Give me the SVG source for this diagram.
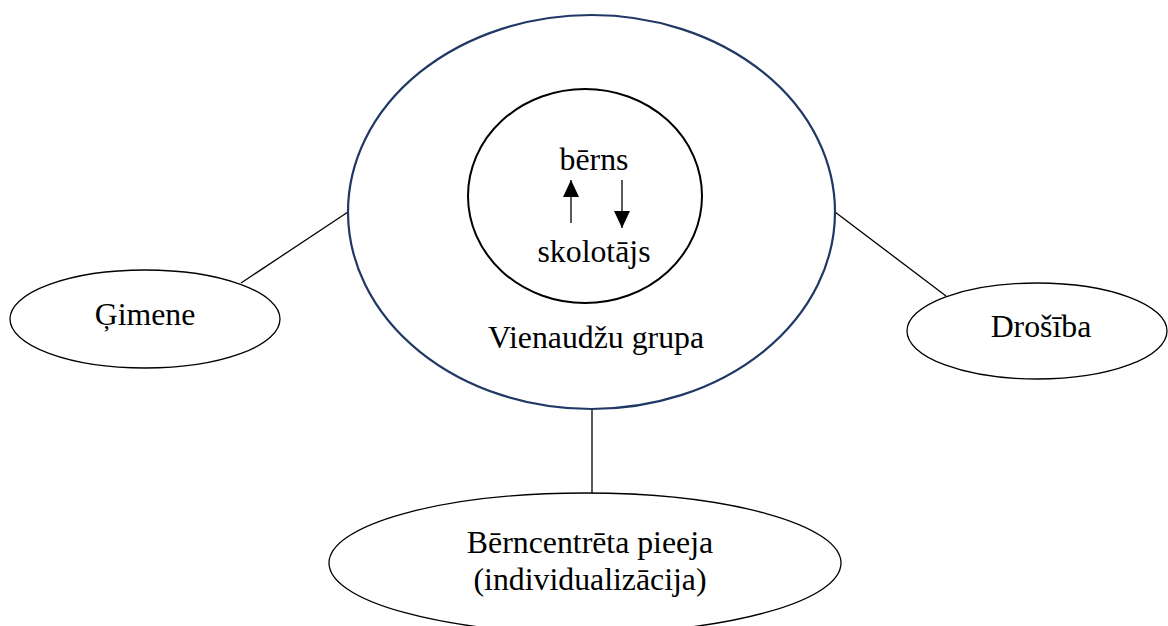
<svg xmlns="http://www.w3.org/2000/svg" width="1168" height="626" viewBox="0 0 1168 626">
<style>
text{font-family:'Liberation Serif','Times New Roman','DejaVu Serif',serif;font-size:31.8px;fill:#000;text-anchor:middle}
.n{fill:#fff;stroke:#000;stroke-width:1.3}
.c{stroke:#000;stroke-width:1.3;fill:none}
</style>
<defs>
<marker id="ah" viewBox="0 0 17 16" refX="17" refY="8" markerWidth="17" markerHeight="16" markerUnits="userSpaceOnUse" orient="auto">
<path d="M0,0 L17,8 L0,16 Z" fill="#000"/>
</marker>
</defs>
<rect width="1168" height="626" fill="#fff"/>
<g id="connectors">
<line class="c" x1="241" y1="283" x2="348" y2="212"/>
<line class="c" x1="835" y1="212" x2="946" y2="296"/>
<line class="c" x1="592" y1="409" x2="592" y2="493"/>
</g>
<g id="outer">
<ellipse cx="591.5" cy="212" rx="243.5" ry="197" fill="none" stroke="#1F3864" stroke-width="2.2"/>
<text x="596" y="348">Vienaudžu grupa</text>
</g>
<g id="inner">
<ellipse cx="585" cy="196" rx="117" ry="107" fill="none" stroke="#000" stroke-width="2"/>
<text x="594" y="170">bērns</text>
<text x="594" y="262">skolotājs</text>
<line class="c" x1="571" y1="223" x2="571" y2="180" marker-end="url(#ah)"/>
<line class="c" x1="622" y1="180" x2="622" y2="228" marker-end="url(#ah)"/>
</g>
<g id="gimene">
<ellipse class="n" cx="145" cy="319" rx="135" ry="49"/>
<text x="145" y="325">Ģimene</text>
</g>
<g id="drosiba">
<ellipse class="n" cx="1037" cy="331" rx="130" ry="48"/>
<text x="1041" y="337">Drošība</text>
</g>
<g id="berncentreta">
<ellipse class="n" cx="585" cy="563" rx="256" ry="70"/>
<text x="590" y="553">Bērncentrēta pieeja</text>
<text x="590" y="590">(individualizācija)</text>
</g>
</svg>
